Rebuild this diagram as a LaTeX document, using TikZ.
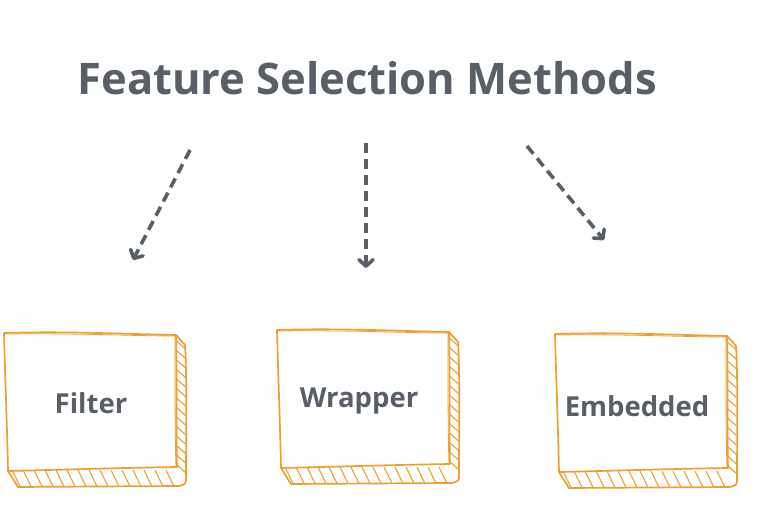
\documentclass[tikz,border=0pt]{standalone}
\usepackage{fontspec}
\setmainfont{Open Sans}
\usetikzlibrary{arrows.meta, positioning}

\definecolor{inkgray}{RGB}{89,95,102}
\definecolor{sketchorange}{RGB}{240,158,48}

% hand-drawn box with hatched shadow: name, left, top, text, label position
\newcommand{\sketchbox}[5]{%
  \begin{scope}[shift={(#2,#3)}]
    % shadow outline
    \draw[boxline] (172,2) -- (181,12) .. controls (183,40) and (182,110) .. (182,144)
      .. controls (182,151) .. (175,153) -- (14,154) -- (4,138);
    % hatching, right side
    \foreach \y in {8,17.5,...,140}
      \draw[hatch] (172.5,\y) -- (181.5,\y+8);
    % hatching, bottom side
    \foreach \x in {8,19,...,168}
      \draw[hatch] (\x,137) -- (\x+8,153.5);
    % front face
    \draw[boxline] (0,0) .. controls (60,-2) and (120,1) .. (172,2)
      .. controls (173,50) and (172,100) .. (173,134)
      .. controls (110,135) and (50,137) .. (4,138)
      .. controls (3,90) and (1,40) .. (0,0);
    \draw[boxline, line width=0.8pt] (2,1) .. controls (70,0) and (130,3) .. (171,3)
      .. controls (171,60) and (171,110) .. (172,133);
    \node[boxlabel] (#1) at (#5) {#4};
  \end{scope}}

\begin{document}
\begin{tikzpicture}[
    x=1pt, y=-1pt,
    boxline/.style={
        draw=sketchorange,
        line width=1.7pt,
        line join=round,
        line cap=round
    },
    hatch/.style={
        draw=sketchorange,
        line width=1.1pt
    },
    boxlabel/.style={
        font=\fontsize{27.5}{32}\selectfont\bfseries,
        text=inkgray
    },
    title/.style={
        font=\fontsize{43.5}{50}\selectfont\bfseries,
        text=inkgray
    },
    arrow/.style={
        draw=inkgray,
        line width=3.6pt,
        dash pattern=on 10pt off 6pt,
        -{Straight Barb[length=6.5pt, width=14pt, line cap=round, line join=round]}
    }
]
\useasboundingbox (0,0) rectangle (758,510);

% Title
\node[title, anchor=west] (title) at (74,78) {Feature Selection Methods};

% Methods
\sketchbox{filter}{4}{333}{Filter}{87,70}
\sketchbox{wrapper}{277}{330}{Wrapper}{82,71}
\sketchbox{embedded}{555}{334}{Embedded}{82,72}

% Arrow ends
\coordinate (fstart) at (190,150);
\coordinate (fend) at (133,260);
\coordinate (wstart) at (366,143);
\coordinate (wend) at (366,268);
\coordinate (estart) at (527,146);
\coordinate (eend) at (604,240);

% Arrows
\draw[arrow] (fstart) -- (fend);
\draw[arrow] (wstart) -- (wend);
\draw[arrow] (estart) -- (eend);

\end{tikzpicture}
\end{document}
